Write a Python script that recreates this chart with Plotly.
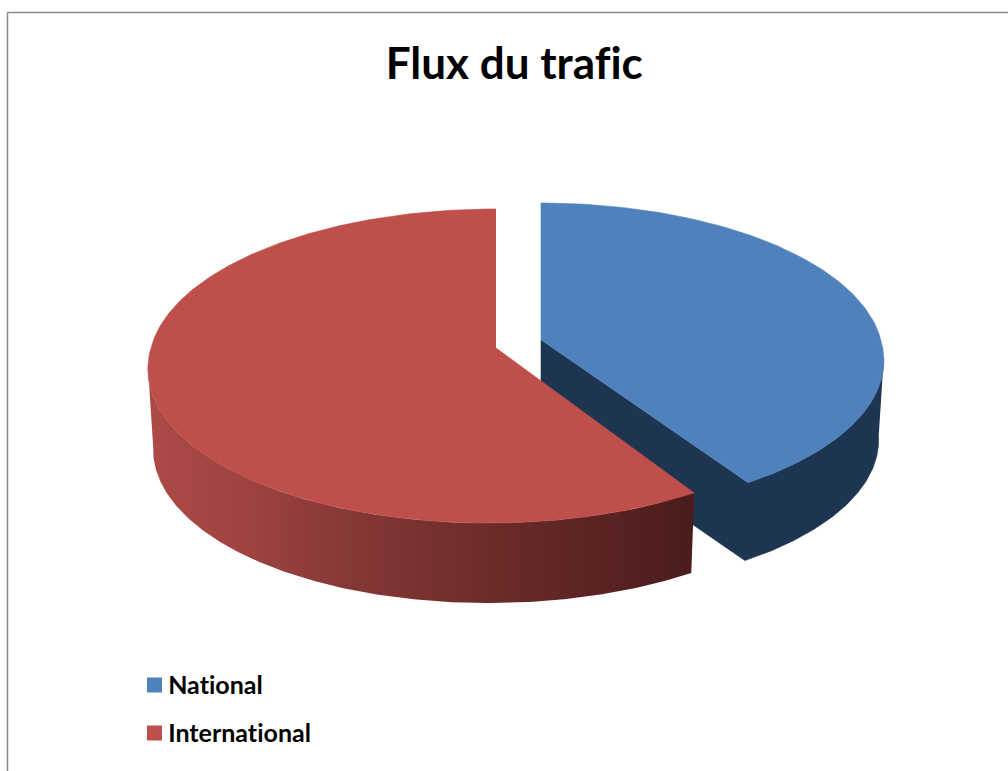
import numpy as np
import plotly.graph_objects as go

# --- data ---
title = "Flux du trafic"
categories = ["National", "International"]
shares = [41, 59]
top_colors = ["#4F81BD", "#BE4F4B"]

# --- drawing style ---
W, H = 1008, 771
APEX = {"National": (541, 340), "International": (496, 348)}
SCALE = {"National": 0.985, "International": 1.0}
NEAR_SPREAD = {"National": 50.0, "International": -60.0}
BOTTOM_Y = {"National": 0.985, "International": 1.0}
R, A, K = 345.0, 155.0, 0.1146   # disc projection
DEPTH = 80.0
BOTTOM_X = 0.985
BLUE_WALL = "#1E3551"
RED_WALL_SCALE = [[0, "#AC4A46"], [0.18, "#9E4340"], [0.33, "#8A3A38"],
                  [0.64, "#6A2B29"], [1, "#4A1C1B"]]
FRAME = "#8A8A8A"
EDGE = -np.degrees(np.arcsin(K))   # where the disc outline is widest


def project(theta, radius, cat, lower=False):
    """Map a disc point (polar, math angle in degrees) to the picture."""
    apex, scale, spread = APEX[cat], SCALE[cat], NEAR_SPREAD[cat]
    t = np.radians(theta)
    X, Y = radius * np.cos(t), radius * np.sin(t)
    w = 1 + K * Y
    x = R * X / w * scale + spread * np.maximum(1 / w - 1, 0)
    y = -A * Y / w * scale
    if lower:
        return apex[0] + x * BOTTOM_X, apex[1] + DEPTH + y * BOTTOM_Y[cat]
    return apex[0] + x, apex[1] + y


fig = go.Figure()
total = sum(shares)
spans = {}
start = 90.0
for cat, val in zip(categories, shares):
    end = start - 360.0 * val / total
    spans[cat] = (start, end)
    start = end


def poly(xs, ys, color):
    fig.add_trace(go.Scatter(x=xs, y=ys, mode="lines", fill="toself",
                             fillcolor=color, line=dict(width=0.6, color=color),
                             hoverinfo="skip", showlegend=False))


# National: side wall and cut face as one dark shape, then the top
cat = categories[0]
a0, a1 = spans[cat]
ap = APEX[cat]
th = np.linspace(a0, a1, 160)
wall = np.linspace(EDGE, a1, 100)
tx, ty = project(wall, 1, cat)
bx, by = project(wall, 1, cat, lower=True)
cx2, cy2 = project(a1, 0, cat, lower=True)
poly(np.r_[tx, ap[0], cx2, bx[::-1]], np.r_[ty, ap[1], cy2, by[::-1]], BLUE_WALL)
x, y = project(th, 1, cat)
poly(np.r_[ap[0], x], np.r_[ap[1], y], top_colors[0])

# International
cat = categories[1]
a0, a1 = spans[cat]
ap = APEX[cat]
th = np.linspace(a0, a1, 260)
wall = np.linspace(a0, -180 - EDGE, 200)
tx, ty = project(wall, 1, cat)
bx, by = project(wall, 1, cat, lower=True)
fig.add_trace(go.Scatter(
    x=np.r_[tx, bx[::-1]], y=np.r_[ty, by[::-1]], mode="lines", fill="toself",
    line=dict(width=0), hoverinfo="skip", showlegend=False,
    fillgradient=dict(type="horizontal", colorscale=RED_WALL_SCALE),
))
x, y = project(th, 1, cat)
poly(np.r_[ap[0], x], np.r_[ap[1], y], top_colors[1])

# Legend
legend_x = [154.5, 154.5]
legend_y = [685, 733]
fig.add_trace(go.Scatter(x=legend_x, y=legend_y, mode="markers", hoverinfo="skip", showlegend=False,
                         marker=dict(symbol="square", size=15, color=top_colors, line=dict(width=0))))
for name, ly in zip(categories, legend_y):
    fig.add_annotation(x=166, y=ly - 1, text=f"<b>{name}</b>", showarrow=False, xanchor="left", yanchor="middle",
                       font=dict(family="Lato", size=25, color="#000000"))

fig.add_annotation(x=514.5, y=62, text=f"<b>{title}</b>", showarrow=False, xanchor="center", yanchor="middle",
                   font=dict(family="Lato", size=44, color="#000000"))

# Chart frame
fig.add_shape(type="line", x0=7.5, x1=7.5, y0=12.5, y1=771, line=dict(color=FRAME, width=1.5))
fig.add_shape(type="line", x0=7.5, x1=1008, y0=12.5, y1=12.5, line=dict(color=FRAME, width=1.5))

fig.update_layout(
    width=W, height=H, margin=dict(l=0, r=0, t=0, b=0),
    paper_bgcolor="white", plot_bgcolor="white", showlegend=False,
    xaxis=dict(range=[0, W], visible=False, fixedrange=True),
    yaxis=dict(range=[H, 0], visible=False, fixedrange=True),
)
fig.write_html("out.html", config={"displayModeBar": False},
               post_script="document.body.style.margin='0';document.body.style.overflow='hidden';"
                           "document.querySelectorAll('text').forEach(function(t){"
                           "t.style.fontFeatureSettings='\"liga\" 0, \"clig\" 0';"
                           "t.style.fontVariantLigatures='none';t.style.letterSpacing='0.01px';});")
